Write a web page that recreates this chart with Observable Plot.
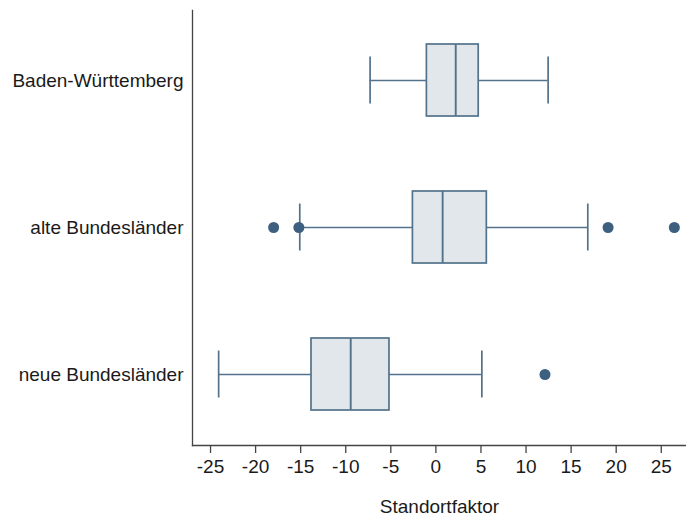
<!DOCTYPE html>
<html>
<head>
<meta charset="utf-8">
<script src="https://cdn.jsdelivr.net/npm/d3@7"></script>
<script src="https://cdn.jsdelivr.net/npm/@observablehq/plot@0.6"></script>
<style>
  html, body { margin: 0; padding: 0; background: #fff; }
</style>
</head>
<body>
<div id="chart"></div>
<script>
const categories = ["Baden-Württemberg", "alte Bundesländer", "neue Bundesländer"];
const whiskerLow  = [-7.3, -15.1, -24.1];
const q1          = [-1.0, -2.55, -13.8];
const median      = [2.2, 0.75, -9.45];
const q3          = [4.75, 5.65, -5.15];
const whiskerHigh = [12.45, 16.85, 5.1];
const outlierCat  = ["alte Bundesländer", "alte Bundesländer", "alte Bundesländer", "alte Bundesländer", "neue Bundesländer"];
const outlierVal  = [-18.0, -15.2, 19.1, 26.45, 12.1];
const xTicks = [-25, -20, -15, -10, -5, 0, 5, 10, 15, 20, 25];
const xLabel = "Standortfaktor";

const boxes = categories.map((c, i) => ({
  cat: c, lo: whiskerLow[i], q1: q1[i], med: median[i], q3: q3[i], hi: whiskerHigh[i]
}));
const outliers = outlierCat.map((c, i) => ({cat: c, v: outlierVal[i]}));

const stroke = "#53728b";
const fill = "#e2e7eb";
const dotFill = "#3d6080";
const axisColor = "#444";

const chart = Plot.plot({
  width: 686,
  height: 516,
  marginLeft: 192,
  marginRight: 0,
  marginTop: 10,
  marginBottom: 71,
  style: {fontFamily: "'Liberation Sans', Arial, sans-serif", fontSize: "19px", color: "#1a1a1a", background: "#fff"},
  x: {domain: [-27.0, 27.8], ticks: xTicks},
  y: {domain: categories, paddingInner: 0.507, paddingOuter: 0.228},
  marks: [
    Plot.ruleY(boxes, {y: "cat", x1: "lo", x2: "hi", stroke, strokeWidth: 1.7}),
    Plot.tickX(boxes, {y: "cat", x: "lo", stroke, strokeWidth: 1.7, insetTop: 12.5, insetBottom: 12.5}),
    Plot.tickX(boxes, {y: "cat", x: "hi", stroke, strokeWidth: 1.7, insetTop: 12.5, insetBottom: 12.5}),
    Plot.barX(boxes, {y: "cat", x1: "q1", x2: "q3", fill, stroke, strokeWidth: 1.7}),
    Plot.tickX(boxes, {y: "cat", x: "med", stroke, strokeWidth: 1.9}),
    Plot.dot(outliers, {y: "cat", x: "v", r: 5.5, fill: dotFill, stroke: "none"}),
    Plot.frame({anchor: "left", stroke: axisColor, strokeWidth: 1.3}),
    Plot.frame({anchor: "bottom", stroke: axisColor, strokeWidth: 1.3}),
    Plot.axisX({ticks: xTicks, tickSize: 8, tickPadding: 6, tickFormat: d => String(d), label: null, stroke: axisColor, strokeWidth: 1.3, fill: "#1a1a1a"}),
    Plot.axisY({tickSize: 0, tickPadding: 9, label: null, fill: "#1a1a1a"}),
    Plot.text([xLabel], {frameAnchor: "bottom", dy: 61, lineAnchor: "middle", fill: "#1a1a1a", fontSize: 19})
  ]
});
document.getElementById("chart").appendChild(chart);
</script>
</body>
</html>
